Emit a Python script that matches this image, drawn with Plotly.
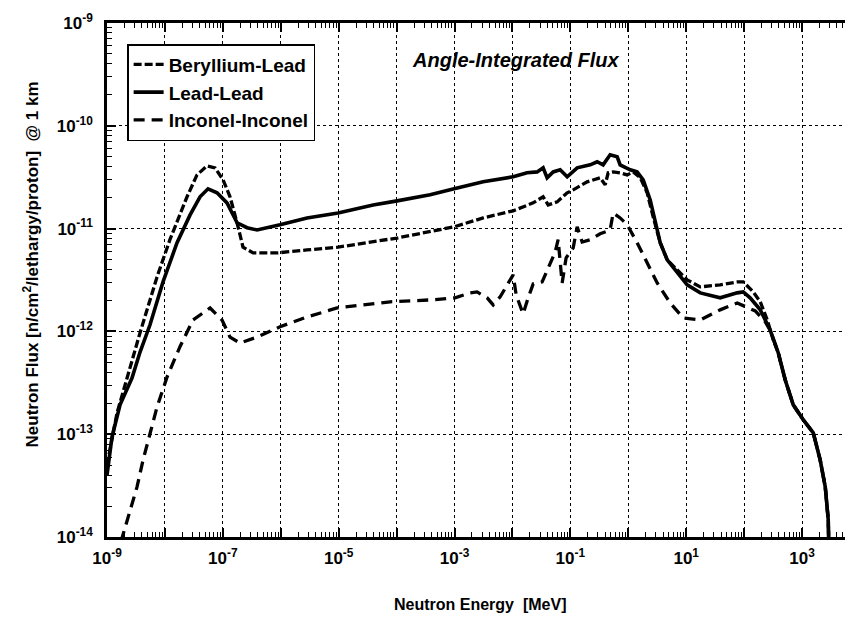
import plotly.graph_objects as go

# ---------------- data ----------------
lead_energy = [1.0e-9, 1.22e-9, 1.68e-9, 2.70e-9, 3.72e-9, 5.53e-9, 9.27e-9, 1.62e-8, 2.72e-8,
               4.04e-8, 5.55e-8, 7.94e-8, 1.18e-7, 1.76e-7, 2.62e-7, 3.90e-7, 9.72e-7, 2.84e-6,
               9.77e-6, 3.93e-5, 1.02e-4, 3.79e-4, 9.84e-4, 3.12e-3, 1.03e-2, 1.79e-2, 2.67e-2,
               3.39e-2, 3.97e-2, 5.05e-2, 6.67e-2, 8.81e-2, 0.131, 0.220, 0.290, 0.368, 0.486,
               0.643, 0.724, 1.08, 1.42, 1.81, 2.39, 2.92, 3.56, 4.70, 7.00, 10.4, 17.5, 38.6,
               76.0, 96.6, 127, 190, 282, 388, 513, 705, 1050, 1563, 2061, 2518, 2838, 2951]
lead_flux = [4.0e-14, 9.4e-14, 1.93e-13, 3.52e-13, 6.3e-13, 1.16e-12, 3.03e-12, 7.3e-12, 1.36e-11,
             2.04e-11, 2.44e-11, 2.23e-11, 1.78e-11, 1.14e-11, 1.02e-11, 9.7e-12, 1.09e-11, 1.27e-11,
             1.42e-11, 1.70e-11, 1.86e-11, 2.13e-11, 2.44e-11, 2.85e-11, 3.19e-11, 3.49e-11, 3.56e-11,
             3.90e-11, 3.12e-11, 3.56e-11, 3.73e-11, 3.19e-11, 3.90e-11, 4.17e-11, 4.47e-11, 4.17e-11,
             5.22e-11, 4.99e-11, 4.17e-11, 3.73e-11, 3.56e-11, 2.98e-11, 1.90e-11, 1.14e-11, 7.3e-12,
             4.97e-12, 3.71e-12, 2.84e-12, 2.37e-12, 2.12e-12, 2.37e-12, 2.42e-12, 2.12e-12, 1.62e-12,
             1.03e-12, 6.2e-13, 3.37e-13, 1.93e-13, 1.38e-13, 1.03e-13, 5.6e-14, 3.07e-14, 1.46e-14,
             5.0e-15]

beryllium_energy = [1.0e-9, 1.22e-9, 1.49e-9, 2.05e-9, 3.72e-9, 7.31e-9, 1.22e-8, 2.41e-8, 3.58e-8,
                    5.33e-8, 7.33e-8, 1.01e-7, 1.33e-7, 1.76e-7, 2.23e-7, 3.33e-7, 8.63e-7, 2.84e-6,
                    9.77e-6, 1.02e-4, 9.84e-4, 3.12e-3, 1.03e-2, 2.28e-2, 3.39e-2, 4.14e-2, 5.92e-2,
                    8.81e-2, 0.112, 0.195, 0.327, 0.399, 0.450, 0.548, 0.724, 0.957, 1.22, 1.61, 2.12,
                    2.69, 3.56, 4.70, 7.00, 10.4, 17.5, 38.6, 76.0, 96.6, 144, 190, 251, 318,
                    388, 513, 705, 1050, 1563, 2061, 2518, 2838, 2951]
beryllium_flux = [5.0e-14, 8.8e-14, 1.61e-13, 3.01e-13, 9.7e-13, 3.39e-12, 7.8e-12, 2.04e-11, 3.33e-11,
                  4.08e-11, 3.90e-11, 2.98e-11, 2.04e-11, 1.14e-11, 6.6e-12, 5.8e-12, 5.8e-12, 6.2e-12,
                  6.6e-12, 8.1e-12, 1.04e-11, 1.27e-11, 1.49e-11, 1.78e-11, 2.04e-11, 1.70e-11, 1.82e-11,
                  2.23e-11, 2.38e-11, 2.85e-11, 3.12e-11, 2.67e-11, 3.49e-11, 3.56e-11, 3.49e-11, 3.33e-11,
                  3.56e-11, 3.12e-11, 2.23e-11, 1.30e-11, 7.3e-12, 4.97e-12, 3.97e-12, 3.17e-12, 2.71e-12,
                  2.84e-12, 3.03e-12, 3.03e-12, 2.42e-12, 1.94e-12, 1.29e-12, 8.3e-13,
                  6.2e-13, 3.37e-13, 1.93e-13, 1.38e-13, 1.03e-13, 5.6e-14, 3.07e-14, 1.46e-14, 5.0e-15]

inconel_energy = [1.74e-9, 2.49e-9, 3.30e-9, 4.19e-9, 5.53e-9, 7.31e-9, 1.09e-8, 1.82e-8, 3.05e-8,
                  6.01e-8, 9.68e-8, 1.33e-7, 1.98e-7, 3.90e-7, 9.72e-7, 2.84e-6, 9.38e-6, 7.73e-5,
                  4.27e-4, 1.02e-3, 1.86e-3, 2.45e-3, 3.66e-3, 4.65e-3, 6.14e-3, 8.11e-3, 1.03e-2,
                  1.16e-2, 1.53e-2, 1.87e-2, 2.28e-2, 3.26e-2, 3.97e-2, 5.46e-2, 6.15e-2, 6.67e-2,
                  7.21e-2, 8.45e-2, 0.112, 0.131, 0.160, 0.220, 0.327, 0.486, 0.548, 0.724, 0.957,
                  1.42, 2.12, 3.16, 5.30, 8.87, 17.5, 38.6, 76.0, 113, 156, 232,
                  282, 388, 513, 705, 1050, 1563, 2061, 2518, 2838, 2951]
inconel_flux = [9.0e-15, 1.83e-14, 3.07e-14, 5.6e-14, 1.03e-13, 1.84e-13, 3.61e-13, 7.1e-13, 1.29e-12,
                1.69e-12, 1.29e-12, 8.8e-13, 7.7e-13, 8.8e-13, 1.11e-12, 1.38e-12, 1.69e-12, 1.94e-12,
                2.03e-12, 2.12e-12, 2.37e-12, 2.42e-12, 2.12e-12, 1.81e-12, 2.17e-12, 2.84e-12, 3.55e-12,
                2.26e-12, 1.48e-12, 2.12e-12, 2.90e-12, 3.03e-12, 3.97e-12, 5.9e-12, 7.8e-12, 4.75e-12,
                2.96e-12, 5.2e-12, 6.5e-12, 1.04e-11, 7.4e-12, 7.8e-12, 8.9e-12, 9.7e-12, 1.42e-11,
                1.27e-11, 1.09e-11, 7.3e-12, 4.64e-12, 2.96e-12, 1.89e-12, 1.35e-12, 1.29e-12, 1.62e-12,
                1.89e-12, 1.73e-12, 1.58e-12, 1.24e-12,
                1.03e-12, 6.2e-13, 3.37e-13, 1.93e-13, 1.38e-13, 1.03e-13, 5.6e-14, 3.07e-14, 1.46e-14,
                5.0e-15]

x_tick_values = [1e-9, 1e-8, 1e-7, 1e-6, 1e-5, 1e-4, 1e-3, 1e-2, 1e-1, 1e0, 1e1, 1e2, 1e3]
x_tick_labels = ["10<sup>-9</sup>", "", "10<sup>-7</sup>", "", "10<sup>-5</sup>", "",
                 "10<sup>-3</sup>", "", "10<sup>-1</sup>", "", "10<sup>1</sup>", "", "10<sup>3</sup>"]
y_tick_values = [1e-14, 1e-13, 1e-12, 1e-11, 1e-10, 1e-9]
y_tick_labels = ["10<sup>-14</sup>", "10<sup>-13</sup>", "10<sup>-12</sup>",
                 "10<sup>-11</sup>", "10<sup>-10</sup>", "10<sup>-9</sup>"]

series_names = ["Beryllium-Lead", "Lead-Lead", "Inconel-Inconel"]

# minor tick positions (2..9 within each decade)
x_minor = [m * d for d in x_tick_values + [1e4] for m in range(2, 10)]
y_minor = [m * d for d in y_tick_values[:-1] for m in range(2, 10)]

# ---------------- figure ----------------
FONT = "Liberation Sans, Arial, sans-serif"
fig = go.Figure()
fig.add_trace(go.Scatter(x=beryllium_energy, y=beryllium_flux, mode="lines", name=series_names[0],
                         line=dict(color="black", width=3.3, dash="8px,3px")))
fig.add_trace(go.Scatter(x=lead_energy, y=lead_flux, mode="lines", name=series_names[1],
                         line=dict(color="black", width=3.6)))
fig.add_trace(go.Scatter(x=inconel_energy, y=inconel_flux, mode="lines", name=series_names[2],
                         line=dict(color="black", width=3.3, dash="11px,7px")))

axis_common = dict(
    showline=True, linecolor="black", linewidth=2.5,
    ticks="inside", ticklen=9, tickwidth=1.5, tickcolor="black",
    showgrid=True, gridcolor="black", gridwidth=1, griddash="dot",
    zeroline=False, tickfont=dict(family=FONT, size=17, color="black", weight="bold"),
)

fig.update_xaxes(type="log", range=[-9, 3.88], tickmode="array",
                 tickvals=x_tick_values, ticktext=x_tick_labels, mirror="allticks",
                 ticklabelstandoff=4,
                 minor=dict(tickmode="array", tickvals=x_minor, ticks="inside", ticklen=5,
                            tickwidth=1, tickcolor="black", showgrid=False),
                 **axis_common)
fig.update_yaxes(type="log", range=[-14, -9], tickmode="array",
                 tickvals=y_tick_values, ticktext=y_tick_labels,
                 ticklabelstandoff=8,
                 minor=dict(tickmode="array", tickvals=y_minor, ticks="inside", ticklen=5,
                            tickwidth=1, tickcolor="black", showgrid=False),
                 **axis_common)

fig.update_layout(
    width=845, height=612,
    margin=dict(l=99, r=0, t=15, b=83),
    paper_bgcolor="white", plot_bgcolor="white",
    font=dict(family=FONT, color="black"),
    showlegend=True,
    legend=dict(x=0.027, y=0.959, xanchor="left", yanchor="top",
                bgcolor="white", bordercolor="black", borderwidth=1.5,
                font=dict(family=FONT, size=19, color="black", weight="bold")),
    annotations=[
        dict(text="<i>Angle-Integrated Flux</i>", xref="paper", yref="paper",
             x=0.548, y=0.928, xanchor="center", yanchor="middle", showarrow=False,
             font=dict(family=FONT, size=20, color="black", weight="bold")),
        dict(text="Neutron Flux [n/cm<sup>2</sup>/lethargy/proton]  @ 1 km", xref="paper", yref="paper",
             x=-0.102, y=0.53, xanchor="center", yanchor="middle", textangle=-90, showarrow=False,
             font=dict(family=FONT, size=17, color="black", weight="bold")),
        dict(text="Neutron Energy  [MeV]", xref="paper", yref="paper",
             x=0.5, y=-0.132, xanchor="center", yanchor="middle", showarrow=False,
             font=dict(family=FONT, size=16, color="black", weight="bold")),
    ],
)

fig.write_html("out.html")
